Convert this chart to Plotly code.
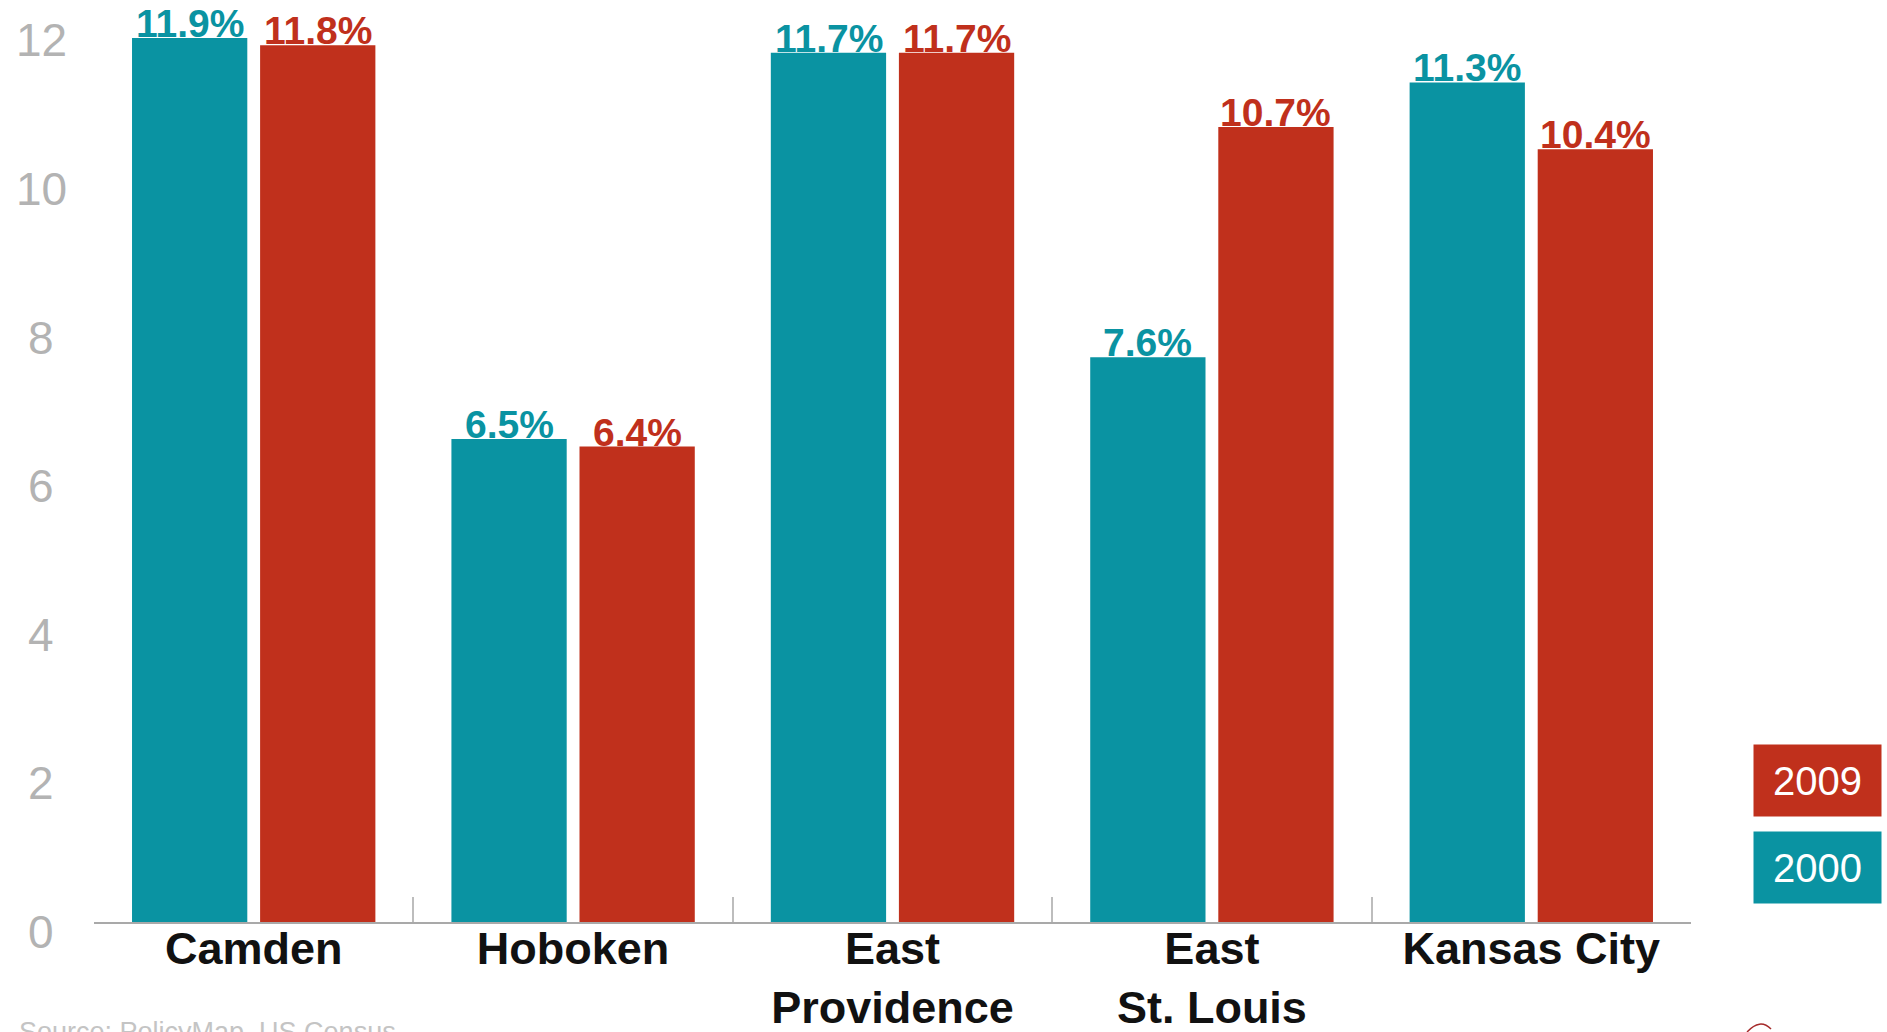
import plotly.graph_objects as go

# Poverty-rate style comparison by city, 2000 vs 2009 (percent)
cities = ["Camden", "Hoboken", "East<br>Providence", "East<br>St. Louis", "Kansas City"]
values_2000 = [11.9, 6.5, 11.7, 7.6, 11.3]
values_2009 = [11.8, 6.4, 11.7, 10.7, 10.4]
series_names = ["2000", "2009"]
y_ticks = [0, 2, 4, 6, 8, 10, 12]
source_text = "Source: PolicyMap, US Census"

TEAL = "#0a93a2"
RED = "#c0301c"
SANS = "Liberation Sans, Arial, sans-serif"

fig = go.Figure()
for name, vals, color in [(series_names[0], values_2000, TEAL),
                          (series_names[1], values_2009, RED)]:
    fig.add_trace(go.Bar(
        x=cities, y=vals, name=name,
        marker=dict(color=color, line=dict(width=0)),
        cliponaxis=False,
    ))

fig.update_layout(
    width=1887, height=1032,
    margin=dict(l=94, r=196, t=0, b=110, autoexpand=False),
    plot_bgcolor="white", paper_bgcolor="white",
    bargap=0.198, bargroupgap=0.10,
    barmode="group",
    showlegend=False,
    font=dict(family=SANS),
)

fig.update_xaxes(
    automargin=False,
    showline=True, linecolor="#a9a9a9", linewidth=2,
    ticks="inside", tickson="boundaries", ticklen=25,
    tickcolor="#bdbdbd", tickwidth=1.5,
    tickfont=dict(size=45, color="#111111", family=SANS),
    tickprefix="<b>", ticksuffix="</b>",
    ticklabelstandoff=-14,
    showgrid=False, zeroline=False,
)
fig.update_yaxes(
    automargin=False,
    range=[0, 12.41], showticklabels=False,
    showgrid=False, zeroline=False, showline=False,
)

# value labels resting on the bar tops (2000 bar left of centre, 2009 right)
for vals, color, dx in [(values_2000, TEAL, -64), (values_2009, RED, 64)]:
    for city, v in zip(cities, vals):
        fig.add_annotation(
            x=city, xref="x", y=v, yref="y",
            xanchor="center", yanchor="bottom", xshift=dx, yshift=-9,
            text=f"<b>{v:.1f}%</b>", showarrow=False,
            font=dict(size=39, color=color, family=SANS),
        )

# y-axis numbers, sitting just below their values
for v in y_ticks:
    fig.add_annotation(
        x=0, xref="paper", xanchor="center", xshift=-53,
        y=v, yref="y", yanchor="middle", yshift=-10,
        text=str(v), showarrow=False,
        font=dict(size=46, color="#b3b3b3", family=SANS),
    )

# legend boxes (2009 above 2000)
for name, color, yc in [(series_names[1], RED, 0.1535), (series_names[0], TEAL, 0.0591)]:
    fig.add_annotation(
        x=1.0792, xref="paper", y=yc, yref="paper",
        xanchor="center", yanchor="middle",
        text=name, showarrow=False,
        width=127, height=71, bgcolor=color, borderpad=0,
        font=dict(size=40, color="white", family=SANS),
    )

# source line along the bottom edge
fig.add_annotation(
    x=0, xref="paper", xanchor="left", xshift=-77,
    y=0, yref="paper", yanchor="top", yshift=-93,
    text=source_text, showarrow=False,
    font=dict(size=27, color="#c4c4c4", family=SANS),
)

# small logo stroke in the bottom-right corner
fig.add_shape(
    type="path", xref="paper", yref="paper",
    path="M 1.0351,-0.1193 Q 1.0432,-0.1040 1.0501,-0.1161",
    line=dict(color="#a52a2a", width=1.5),
)

fig.write_html("out.html")
